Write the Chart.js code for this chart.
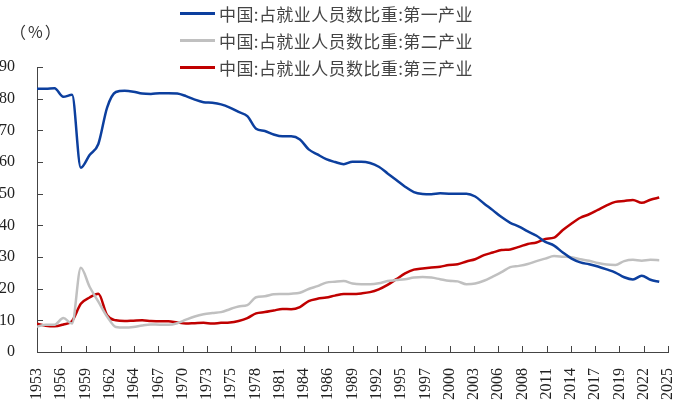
<!DOCTYPE html>
<html lang="zh">
<head>
  <meta charset="UTF-8">
  <title>就业人员构成</title>
  <script src="https://cdn.jsdelivr.net/npm/chart.js@4"></script>
  <style>
    body { margin: 0; background: #fff; }
    #wrap { position: relative; width: 700px; height: 400px; }
    #unit { position: absolute; left: 10px; top: 19px; font: 16px "Noto Sans CJK SC", sans-serif; color: #333; letter-spacing: 2px; }
    #legend { position: absolute; left: 180px; top: 0px; }
    #legend div { height: 27px; display: flex; align-items: center; font: 17px "Noto Sans CJK SC", sans-serif; color: #444; letter-spacing: 0.4px; }
    #legend span { display: inline-block; width: 35px; height: 3px; margin-right: 4px; }
  </style>
</head>
<body>
<div id="wrap">
  <canvas id="chart" width="700" height="400"></canvas>
  <div id="unit">（%）</div>
  <div id="legend"></div>
</div>
<script>
  // 1953 - 2024, yearly
  var years = [];
  for (var y = 1953; y <= 2024; y++) years.push(y);

  var primary = [83.1, 83.1, 83.3, 80.6, 81.2, 58.2, 62.2, 65.7, 77.2, 82.1,
    82.5, 82.2, 81.6, 81.5, 81.7, 81.7, 81.6, 80.8, 79.7, 78.9,
    78.7, 78.2, 77.2, 75.8, 74.5, 70.5, 69.8, 68.7, 68.1, 68.1,
    67.1, 64.0, 62.4, 60.9, 60.0, 59.3, 60.1, 60.1, 59.7, 58.5,
    56.4, 54.3, 52.2, 50.5, 49.9, 49.8, 50.1, 50.0, 50.0, 50.0,
    49.1, 46.9, 44.8, 42.6, 40.8, 39.6, 38.1, 36.7, 34.8, 33.6,
    31.4, 29.5, 28.3, 27.7, 27.0, 26.1, 25.1, 23.6, 22.9, 24.1,
    22.8, 22.2];
  var secondary = [8.0, 8.6, 8.6, 10.7, 9.0, 26.6, 20.6, 15.9, 11.2, 7.9,
    7.7, 7.9, 8.4, 8.7, 8.6, 8.6, 9.1, 10.2, 11.2, 11.9,
    12.3, 12.6, 13.5, 14.4, 14.8, 17.3, 17.6, 18.2, 18.3, 18.4,
    18.7, 19.9, 20.8, 21.9, 22.2, 22.4, 21.6, 21.4, 21.4, 21.7,
    22.4, 22.7, 23.0, 23.5, 23.7, 23.5, 23.0, 22.5, 22.3, 21.4,
    21.6, 22.5, 23.8, 25.2, 26.8, 27.2, 27.8, 28.7, 29.5, 30.3,
    30.1, 29.9, 29.3, 28.8, 28.1, 27.6, 27.5, 28.7, 29.1, 28.8,
    29.1, 29.0];
  var tertiary = [8.9, 8.3, 8.1, 8.7, 9.8, 15.2, 17.2, 18.4, 11.6, 10.0,
    9.8, 9.9, 10.0, 9.8, 9.7, 9.7, 9.3, 9.0, 9.1, 9.2,
    9.0, 9.2, 9.3, 9.8, 10.7, 12.2, 12.6, 13.1, 13.6, 13.5,
    14.2, 16.1, 16.8, 17.2, 17.8, 18.3, 18.3, 18.5, 18.9, 19.8,
    21.2, 23.0, 24.8, 26.0, 26.4, 26.7, 26.9, 27.5, 27.7, 28.6,
    29.3, 30.6, 31.4, 32.2, 32.4, 33.2, 34.1, 34.6, 35.7, 36.1,
    38.5, 40.6, 42.4, 43.5, 44.9, 46.3, 47.4, 47.7, 48.0, 47.1,
    48.1, 48.8];

  var xLabels = ['1953', '1956', '1959', '1962', '1964', '1967', '1970', '1973', '1975',
    '1978', '1981', '1984', '1986', '1989', '1992', '1995', '1997', '2000', '2003',
    '2006', '2008', '2011', '2014', '2017', '2019', '2022', '2025'];

  var seriesNames = ['中国:占就业人员数比重:第一产业', '中国:占就业人员数比重:第二产业', '中国:占就业人员数比重:第三产业'];
  var colors = ['#0C3F9E', '#C0C0C0', '#C00000'];

  function pts(arr) {
    return arr.map(function(v, i) { return { x: years[i], y: v }; });
  }

  var xMin = 1953, xMax = 2025;
  var serif = "'Liberation Serif', 'Times New Roman', serif";

  // ticks drawn inward, like the reference
  var innerTicks = {
    id: 'innerTicks',
    afterDraw: function(chart) {
      var ctx = chart.ctx, xs = chart.scales.x, ys = chart.scales.y;
      ctx.save();
      ctx.strokeStyle = '#444';
      ctx.lineWidth = 1;
      ctx.beginPath();
      xs.ticks.forEach(function(t) {
        var px = Math.round(xs.getPixelForValue(t.value)) + 0.5;
        ctx.moveTo(px, ys.bottom);
        ctx.lineTo(px, ys.bottom - 6);
      });
      ys.ticks.forEach(function(t) {
        var py = Math.round(ys.getPixelForValue(t.value)) + 0.5;
        ctx.moveTo(xs.left, py);
        ctx.lineTo(xs.left + 6, py);
      });
      ctx.stroke();
      ctx.restore();
    }
  };

  var chart = new Chart(document.getElementById('chart'), {
    type: 'line',
    data: {
      datasets: [0, 1, 2].map(function(i) {
        return {
          label: seriesNames[i],
          data: pts([primary, secondary, tertiary][i]),
          borderColor: colors[i],
          backgroundColor: colors[i],
          borderWidth: 2.5,
          pointRadius: 0,
          cubicInterpolationMode: 'monotone',
          fill: false
        };
      })
    },
    options: {
      responsive: false,
      animation: false,
      layout: { padding: { top: 67, right: 32, left: 0, bottom: 0 } },
      plugins: { legend: { display: false }, tooltip: { enabled: false } },
      scales: {
        x: {
          type: 'linear',
          min: xMin,
          max: xMax,
          afterBuildTicks: function(scale) {
            scale.ticks = xLabels.map(function(l, i) {
              return { value: xMin + i * (xMax - xMin) / (xLabels.length - 1) };
            });
          },
          afterFit: function(scale) { scale.height = 48; },
          grid: { display: false },
          border: { display: true, color: '#444', width: 1 },
          ticks: {
            autoSkip: false,
            minRotation: 90,
            maxRotation: 90,
            padding: 8,
            color: '#222',
            font: { family: serif, size: 16 },
            callback: function(v, i) { return xLabels[i]; }
          }
        },
        y: {
          min: 0,
          max: 90,
          afterFit: function(scale) { scale.width = 37; },
          grid: { display: false },
          border: { display: true, color: '#444', width: 1 },
          ticks: {
            stepSize: 10,
            padding: 14,
            color: '#222',
            font: { family: serif, size: 16 }
          }
        }
      }
    },
    plugins: [innerTicks]
  });

  var legend = document.getElementById('legend');
  chart.data.datasets.forEach(function(ds) {
    var row = document.createElement('div');
    var sw = document.createElement('span');
    sw.style.background = ds.borderColor;
    row.appendChild(sw);
    row.appendChild(document.createTextNode(ds.label));
    legend.appendChild(row);
  });
</script>
</body>
</html>
